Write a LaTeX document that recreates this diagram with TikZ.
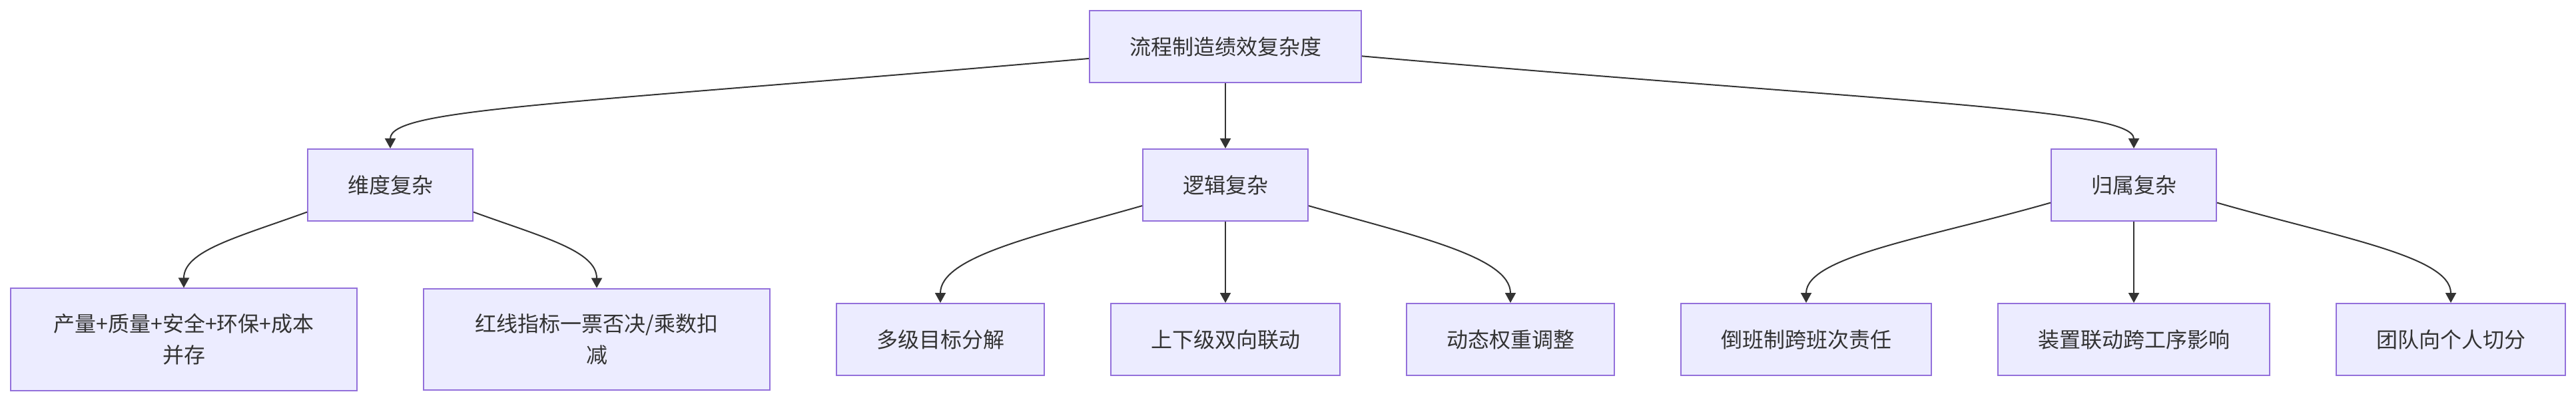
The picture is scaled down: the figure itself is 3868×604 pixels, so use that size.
\documentclass[tikz,border=0pt]{standalone}
\usepackage{fontspec}
\newfontfamily\cjk{Noto Sans CJK SC}
\usepackage{tikz}
\usetikzlibrary{arrows.meta,positioning}
\usepackage{xcolor}
\definecolor{mmfill}{HTML}{ECECFF}
\definecolor{mmborder}{HTML}{9370DB}
\definecolor{mmtext}{HTML}{333333}

\begin{document}
\begin{tikzpicture}[
        x=0.5pt, y=0.5pt,
        box/.style={draw=mmborder, fill=mmfill, line width=1pt, minimum height=54pt,
          inner xsep=30pt, inner ysep=19pt, text=mmtext},
        widebox/.style={box, text width=200pt, align=center},
        link/.style={draw=mmtext, line width=1pt, -{Triangle[length=7.5pt, width=8pt]}},
        every node/.style={font=\cjk\fontsize{16pt}{23.5pt}\selectfont}]
        \useasboundingbox (0,0) rectangle (3868,-604);
        % top
        \node[box] (root) at (1840,-70) {流程制造绩效复杂度};
        % second level
        \node[box] (dim) at (586,-278) {维度复杂};
        \node[box] (logic) at (1840,-278) {逻辑复杂};
        \node[box] (owner) at (3204,-278) {归属复杂};
        % leaves
        \node[widebox] (multi) at (276,-510) {产量+质量+安全+环保+成本\\并存};
        \node[widebox] (redline) at (896,-510) {红线指标一票否决/乘数扣\\减};
        \node[box] (split) at (1412,-510) {多级目标分解};
        \node[box] (updown) at (1840,-510) {上下级双向联动};
        \node[box] (weight) at (2268,-510) {动态权重调整};
        \node[box] (shift) at (2712,-510) {倒班制跨班次责任};
        \node[box] (unit) at (3204,-510) {装置联动跨工序影响};
        \node[box] (team) at (3680,-510) {团队向个人切分};

        \draw[link] (root.185) to[out=185, in=90, out distance=400pt, in distance=30pt] (dim.north);
        \draw[link] (root.south) -- (logic.north);
        \draw[link] (root.356) to[out=-5, in=90, out distance=400pt, in distance=30pt] (owner.north);

        \draw[link] (dim.198) to[out=200, in=90, out distance=55pt, in distance=28pt] (multi.north);
        \draw[link] (dim.342) to[out=-20, in=90, out distance=55pt, in distance=28pt] (redline.north);

        \draw[link] (logic.194) to[out=196, in=90, out distance=80pt, in distance=35pt] (split.north);
        \draw[link] (logic.south) -- (updown.north);
        \draw[link] (logic.346) to[out=-16, in=90, out distance=80pt, in distance=35pt] (weight.north);

        \draw[link] (owner.192) to[out=196, in=90, out distance=95pt, in distance=35pt] (shift.north);
        \draw[link] (owner.south) -- (unit.north);
        \draw[link] (owner.348) to[out=-16, in=90, out distance=95pt, in distance=35pt] (team.north);
      \end{tikzpicture}
\end{document}
